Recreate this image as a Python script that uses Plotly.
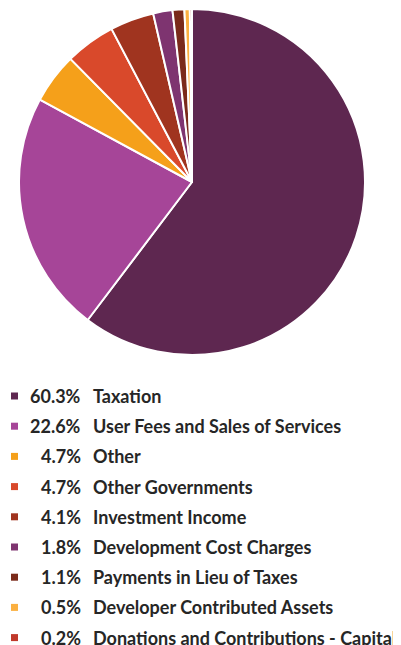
import plotly.graph_objects as go

labels = [
    "Taxation",
    "User Fees and Sales of Services",
    "Other",
    "Other Governments",
    "Investment Income",
    "Development Cost Charges",
    "Payments in Lieu of Taxes",
    "Developer Contributed Assets",
    "Donations and Contributions - Capital",
]
shares = [60.3, 22.6, 4.7, 4.7, 4.1, 1.8, 1.1, 0.5, 0.2]
colors = [
    "#5E2750", "#A64598", "#F5A01A", "#D9492B", "#A0341F",
    "#7E3470", "#7A2A1A", "#FBB040", "#C0392B",
]

W, H = 401, 645
OFF = 8  # page body margin pushes the plot 8px right and down

def px_x(x):
    return (x - OFF) / W

def px_y(y):
    return 1 - (y - OFF) / H

fig = go.Figure(
    go.Pie(
        labels=labels,
        values=shares,
        sort=False,
        direction="clockwise",
        rotation=0,
        marker=dict(colors=colors, line=dict(color="white", width=2)),
        textinfo="none",
        hoverinfo="label+percent",
        domain=dict(x=[px_x(19), px_x(365)], y=[px_y(355), px_y(9)]),
    )
)

# legend rows drawn by hand so the percentages line up on the right
row0, step = 396, 30.2
text_font = dict(family="Lato, Open Sans, sans-serif", size=18, color="#262626")
shapes = []
annotations = []
for i, (lab, val, col) in enumerate(zip(labels, shares, colors)):
    yc = row0 + i * step
    shapes.append(dict(
        type="rect", xref="paper", yref="paper",
        x0=px_x(11), x1=px_x(18),
        y0=px_y(yc + 3.5), y1=px_y(yc - 3.5),
        fillcolor=col, line=dict(width=0),
    ))
    annotations.append(dict(
        xref="paper", yref="paper", x=px_x(83), y=px_y(yc),
        xanchor="right", yanchor="middle", showarrow=False,
        text=f"<b>{val:.1f}%</b>", font=text_font,
    ))
    annotations.append(dict(
        xref="paper", yref="paper", x=px_x(91), y=px_y(yc),
        xanchor="left", yanchor="middle", showarrow=False,
        text=f"<b>{lab}</b>", font=text_font,
    ))

fig.update_layout(
    width=W,
    height=H,
    margin=dict(l=0, r=0, t=0, b=0),
    showlegend=False,
    paper_bgcolor="white",
    shapes=shapes,
    annotations=annotations,
)

fig.write_html("out.html")
